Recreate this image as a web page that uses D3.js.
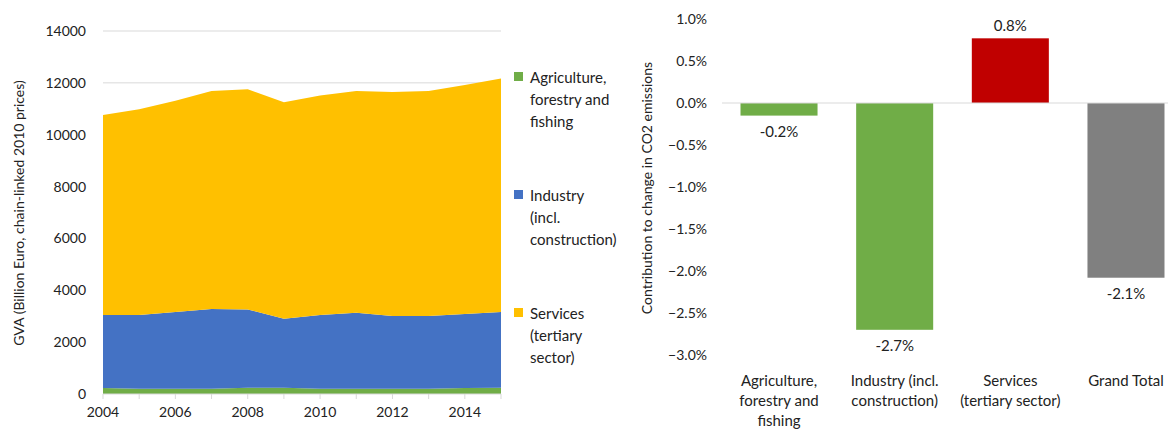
<!DOCTYPE html>
<html><head><meta charset="utf-8">
<script src="https://cdn.jsdelivr.net/npm/d3@7"></script>
<style>body{margin:0;background:#fff}text{font-family:Lato,"Liberation Sans",sans-serif;fill:#222}</style>
</head><body><svg id="c" width="1171" height="429"></svg>
<script>
var years = [2004,2005,2006,2007,2008,2009,2010,2011,2012,2013,2014,2015];
var agriculture = [230,200,200,200,240,240,200,200,200,200,230,240];
var industry = [2820,2850,2960,3080,3020,2665,2850,2930,2810,2810,2860,2920];
var services = [7710,7930,8150,8410,8495,8345,8460,8560,8640,8680,8830,9005];
var seriesNames = ['Agriculture, forestry and fishing','Industry (incl. construction)','Services (tertiary sector)'];
var seriesColors = ['#70ad47','#4472c4','#ffc000'];
var legendLines = [['Agriculture,','forestry and','fishing'],['Industry','(incl.','construction)'],['Services','(tertiary','sector)']];
var yTicksLeft = [0,2000,4000,6000,8000,10000,12000,14000];
var xTicksLeft = [2004,2006,2008,2010,2012,2014];

var categories = [['Agriculture,','forestry and','fishing'],['Industry (incl.','construction)'],['Services','(tertiary sector)'],['Grand Total']];
var contributions = [-0.0015,-0.027,0.0077,-0.0208];
var barColors = ['#70ad47','#70ad47','#c00000','#808080'];
var barLabels = ['-0.2%','-2.7%','0.8%','-2.1%'];
var yTicksRight = [0.01,0.005,0,-0.005,-0.01,-0.015,-0.02,-0.025,-0.03];

var svg = d3.select('#c');

// left: stacked area
var x = d3.scaleLinear().domain([2004,2015]).range([103,501]);
var y = d3.scaleLinear().domain([0,14000]).range([394,31]);
var rows = years.map(function(yr,i){return {year:yr,a:agriculture[i],b:industry[i],c:services[i]};});
var stack = d3.stack().keys(['a','b','c'])(rows);
svg.append('g').selectAll('line').data(yTicksLeft.slice(1)).join('line')
  .attr('x1',103).attr('x2',501).attr('y1',function(d){return y(d);}).attr('y2',function(d){return y(d);})
  .attr('stroke','#d9d9d9');
var area = d3.area().x(function(d){return x(d.data.year);}).y0(function(d){return y(d[0]);}).y1(function(d){return y(d[1]);});
svg.append('g').selectAll('path').data(stack).join('path').attr('d',area).attr('fill',function(d,i){return seriesColors[i];});
svg.append('line').attr('x1',103).attr('x2',501).attr('y1',y(0)).attr('y2',y(0)).attr('stroke','#d9d9d9');
svg.append('g').selectAll('line').data(years).join('line')
  .attr('x1',function(d){return x(d);}).attr('x2',function(d){return x(d);}).attr('y1',y(0)).attr('y2',y(0)+5).attr('stroke','#d9d9d9');
svg.append('g').selectAll('text').data(yTicksLeft).join('text')
  .attr('x',86).attr('y',function(d){return y(d)+5;}).attr('text-anchor','end').attr('font-size',14).text(function(d){return d;});
svg.append('g').selectAll('text').data(xTicksLeft).join('text')
  .attr('x',function(d){return x(d);}).attr('y',417).attr('text-anchor','middle').attr('font-size',14).text(function(d){return d;});
svg.append('text').attr('transform','translate(24,213) rotate(-90)').attr('text-anchor','middle').attr('font-size',14)
  .text('GVA (Billion Euro, chain-linked  2010 prices)');
var leg = svg.append('g').selectAll('g').data(legendLines).join('g')
  .attr('transform',function(d,i){return 'translate(514,'+(78+i*118)+')';});
leg.append('rect').attr('x',0).attr('y',-6).attr('width',9).attr('height',9).attr('fill',function(d,i){return seriesColors[i];});
leg.each(function(lines){
  d3.select(this).selectAll('text').data(lines).join('text').attr('x',16).attr('y',function(d,j){return j*22+5;})
    .attr('font-size',15).text(function(d){return d;});
});

// right: bars
var xb = d3.scaleBand().domain(d3.range(categories.length)).range([722,1183]).paddingInner(0.334).paddingOuter(0.16);
var yb = d3.scaleLinear().domain([-0.03,0.01]).range([355,19]);
svg.append('g').selectAll('rect').data(contributions).join('rect')
  .attr('x',function(d,i){return xb(i);}).attr('width',xb.bandwidth())
  .attr('y',function(d){return yb(Math.max(0,d));}).attr('height',function(d){return Math.abs(yb(d)-yb(0));})
  .attr('fill',function(d,i){return barColors[i];});
svg.append('line').attr('x1',722).attr('x2',1168).attr('y1',yb(0)).attr('y2',yb(0)).attr('stroke','#d9d9d9');
svg.append('g').selectAll('text').data(contributions).join('text')
  .attr('x',function(d,i){return xb(i)+xb.bandwidth()/2;})
  .attr('y',function(d){return d<0?yb(d)+21:yb(d)-7;}).attr('text-anchor','middle').attr('font-size',15)
  .text(function(d,i){return barLabels[i];});
svg.append('g').selectAll('text').data(yTicksRight).join('text')
  .attr('x',707).attr('y',function(d){return yb(d)+5;}).attr('text-anchor','end').attr('font-size',14)
  .text(function(d){return d3.format('.1%')(d);});
var cat = svg.append('g').selectAll('g').data(categories).join('g')
  .attr('transform',function(d,i){return 'translate('+(xb(i)+xb.bandwidth()/2)+',386)';});
cat.each(function(lines){
  d3.select(this).selectAll('text').data(lines).join('text').attr('x',0).attr('y',function(d,j){return j*20;})
    .attr('text-anchor','middle').attr('font-size',15).text(function(d){return d;});
});
svg.append('text').attr('transform','translate(652,188) rotate(-90)').attr('text-anchor','middle').attr('font-size',14)
  .text('Contribution to change in CO2 emissions');
</script></body></html>
